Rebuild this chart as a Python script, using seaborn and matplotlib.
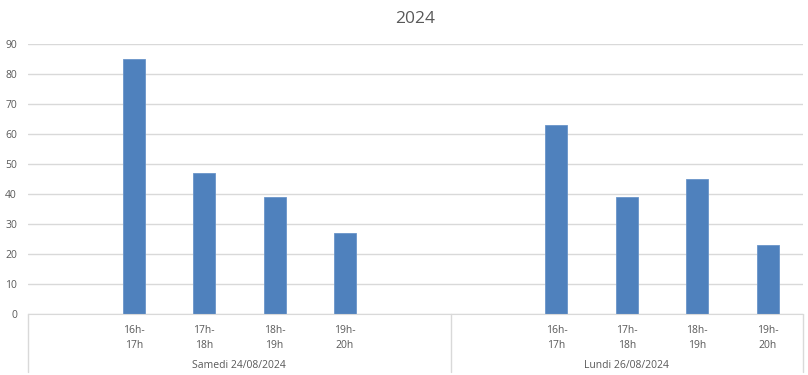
import numpy as np
import pandas as pd
import matplotlib
matplotlib.use('Agg')
import matplotlib.pyplot as plt
import matplotlib.transforms as mtransforms
import seaborn as sns

# ------------------------------------------------ Données ------------------------------------------------
title = '2024'
groupes = ['Samedi 24/08/2024', 'Lundi 26/08/2024']
creneaux_samedi = ['', '16h-\n17h', '17h-\n18h', '18h-\n19h', '19h-\n20h', '']
valeurs_samedi = [np.nan, 85, 47, 39, 27, np.nan]
creneaux_lundi = ['', '16h-\n17h', '17h-\n18h', '18h-\n19h', '19h-\n20h']
valeurs_lundi = [np.nan, 63, 39, 45, 23]

# table pour seaborn (clé unique par emplacement)
labels = creneaux_samedi + creneaux_lundi
valeurs = valeurs_samedi + valeurs_lundi
cles = [f'c{i}' for i in range(len(labels))]
df = pd.DataFrame({'cle': cles, 'valeur': valeurs})

# ------------------------------------------------ Figure ------------------------------------------------
sns.set_style('white')
plt.rcParams['font.family'] = ['Open Sans', 'DejaVu Sans']
gris = '#595959'

fig = plt.figure(figsize=(8.08, 3.75), dpi=100)
ax = fig.add_axes([28 / 808, 61 / 375, 775 / 808, 270 / 375])

sns.barplot(data=df, x='cle', y='valeur', order=cles, color='#4F81BD',
            width=0.31, edgecolor='#6A95C9', linewidth=0.6, ax=ax, saturation=1)

ax.set_ylim(0, 90)
ax.set_xlim(-0.5, len(cles) - 0.5)
ax.set_yticks(range(0, 91, 10))
ax.yaxis.grid(True, color='#d9d9d9', linewidth=1)
ax.set_axisbelow(True)
ax.set_xticks(range(len(cles)))
ax.set_xticklabels(labels, color=gris, fontsize=7.5, linespacing=1.5)
ax.tick_params(axis='y', labelcolor=gris, labelsize=7.5, length=0, pad=8)
ax.tick_params(axis='x', length=0, pad=8)
for s in ['left', 'right', 'top']:
    ax.spines[s].set_visible(False)
ax.spines['bottom'].set_color('#d9d9d9')
ax.set_xlabel('')
ax.set_ylabel('')

# séparateurs et noms des groupes
trans = mtransforms.blended_transform_factory(ax.transData, ax.transAxes)
n1 = len(creneaux_samedi)
bornes = [-0.5, n1 - 0.5, len(cles) - 0.5]
for b in bornes:
    ax.plot([b, b], [0, -0.215], color='#d9d9d9', lw=1, transform=trans, clip_on=False)
centres = [(bornes[0] + bornes[1]) / 2, (bornes[1] + bornes[2]) / 2]
for c, g in zip(centres, groupes):
    ax.text(c, -0.19, g, transform=trans, ha='center', va='center', color=gris, fontsize=7.5)

fig.text(415 / 808, 1 - 19 / 375, title, ha='center', va='center', fontsize=12.5, color=gris)

plt.savefig('out.png', dpi=100)
